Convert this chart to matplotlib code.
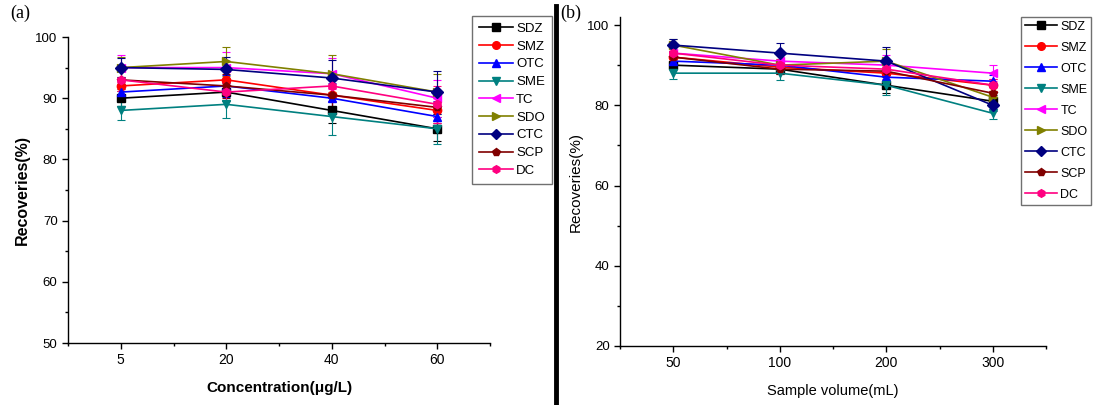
import matplotlib
matplotlib.use("Agg")
import matplotlib.pyplot as plt
from matplotlib.lines import Line2D
import numpy as np

plt.rcParams['font.family'] = ['Liberation Sans', 'DejaVu Sans']

# compounds and styles
names = ["SDZ", "SMZ", "OTC", "SME", "TC", "SDO", "CTC", "SCP", "DC"]
colors = ["#000000", "#ff0000", "#0000ff", "#008080", "#ff00ff",
          "#808000", "#000080", "#800000", "#ff0080"]
markers = ["s", "o", "^", "v", "<", ">", "D", "p", "h"]

# (a) effect of concentration
conc_labels = ["5", "20", "40", "60"]
rec_a = {
    "SDZ": [90, 91, 88, 85],
    "SMZ": [92, 93, 90.5, 88],
    "OTC": [91, 92, 90, 87],
    "SME": [88, 89, 87, 85],
    "TC":  [95, 95, 94, 90],
    "SDO": [95, 96, 94, 91],
    "CTC": [95, 94.7, 93.3, 91],
    "SCP": [93, 92, 90.5, 88.5],
    "DC":  [93, 91, 92, 89],
}
err_a = {
    "SDZ": [1.2, 1.5, 2.0, 2.0],
    "SMZ": [1.5, 2.0, 2.5, 2.5],
    "OTC": [1.3, 1.8, 2.5, 2.5],
    "SME": [1.5, 2.3, 3.0, 2.5],
    "TC":  [2.0, 2.5, 2.5, 3.0],
    "SDO": [1.8, 2.3, 3.0, 3.0],
    "CTC": [1.5, 2.0, 3.0, 3.5],
    "SCP": [1.5, 2.0, 2.5, 2.5],
    "DC":  [1.8, 2.0, 2.5, 3.0],
}

# (b) effect of sample volume
vol_labels = ["50", "100", "200", "300"]
rec_b = {
    "SDZ": [90, 89, 85, 81],
    "SMZ": [92, 89.5, 88, 85],
    "OTC": [91, 90, 87, 86],
    "SME": [88, 88, 85, 78],
    "TC":  [93, 91, 90, 88],
    "SDO": [95, 90, 91, 82],
    "CTC": [95, 93, 91, 80],
    "SCP": [92, 89, 88.5, 83],
    "DC":  [93, 90, 89, 85],
}
err_b = {
    "SDZ": [1.0, 1.2, 2.0, 1.5],
    "SMZ": [1.2, 1.2, 2.0, 1.5],
    "OTC": [1.0, 1.2, 2.0, 1.5],
    "SME": [1.5, 1.6, 2.5, 1.5],
    "TC":  [1.5, 1.5, 2.5, 2.0],
    "SDO": [1.5, 1.5, 3.0, 1.5],
    "CTC": [1.5, 2.4, 3.5, 1.5],
    "SCP": [1.2, 1.2, 2.5, 1.5],
    "DC":  [1.5, 1.5, 2.5, 1.5],
}

W, H = 1094, 405
fig = plt.figure(figsize=(W / 100, H / 100), dpi=100)


def style_axes(ax, labels):
    x = np.arange(1, len(labels) + 1)
    ax.set_xticks(x)
    ax.set_xticklabels(labels)
    ax.set_xticks(np.arange(0.5, len(labels) + 1, 1.0), minor=True)
    ax.set_xlim(0.5, len(labels) + 0.5)
    ax.spines['top'].set_visible(False)
    ax.spines['right'].set_visible(False)
    for s in ('left', 'bottom'):
        ax.spines[s].set_linewidth(1.0)
    ax.tick_params(which='major', direction='out', length=4, width=1)
    ax.tick_params(axis='x', which='major', labelsize=10)
    ax.tick_params(axis='y', which='major', labelsize=9.5)
    ax.tick_params(which='minor', direction='out', length=2.5, width=1)
    return x


def draw(ax, rec, err, x, lw=1.2):
    for n, c, m in zip(names, colors, markers):
        ax.errorbar(x, rec[n], yerr=err[n], color=c, marker=m, markersize=6,
                    linewidth=lw, elinewidth=0.8, capsize=3, capthick=0.8,
                    label=n)


def add_legend(ax, x0, y0, spacing, fs, bpad):
    handles = [Line2D([], [], color=c, marker=m, markersize=5.5, linewidth=1.2)
               for c, m in zip(colors, markers)]
    leg = ax.legend(handles, names, loc='upper left',
                    bbox_to_anchor=(x0 / W, 1 - y0 / H),
                    bbox_transform=fig.transFigure, borderaxespad=0,
                    fancybox=False, framealpha=1, edgecolor='#707070',
                    fontsize=fs, handlelength=2.6, handletextpad=0.25,
                    labelspacing=spacing, borderpad=bpad)
    leg.get_frame().set_linewidth(1.0)


# panel (a)
ax1 = fig.add_axes([68 / W, 1 - 343 / H, 422 / W, 306 / H])
xa = style_axes(ax1, conc_labels)
draw(ax1, rec_a, err_a, xa)
ax1.set_ylim(50, 100)
ax1.set_yticks(np.arange(50, 101, 10))
ax1.set_yticks(np.arange(55, 100, 10), minor=True)
ax1.set_ylabel("Recoveries(%)", fontsize=11.5, fontweight='bold', labelpad=4)
ax1.set_xlabel("Concentration(\u03bcg/L)", fontsize=11, fontweight='bold', labelpad=10)
add_legend(ax1, 472, 16, 0.42, 9.5, 0.5)

# panel (b)
ax2 = fig.add_axes([620 / W, 1 - 346 / H, 426 / W, 329 / H])
xb = style_axes(ax2, vol_labels)
draw(ax2, rec_b, err_b, xb)
ax2.set_ylim(20, 102)
ax2.set_yticks(np.arange(20, 101, 20))
ax2.set_yticks(np.arange(30, 100, 20), minor=True)
ax2.set_ylabel("Recoveries(%)", fontsize=11, labelpad=3)
ax2.set_xlabel("Sample volume(mL)", fontsize=10.5, labelpad=10)
add_legend(ax2, 1021, 17, 0.72, 9, 0.3)

# panel letters and divider
fig.text(10 / W, 1 - 18 / H, "(a)", family=['Liberation Serif'], fontsize=13)
fig.text(560 / W, 1 - 18 / H, "(b)", family=['Liberation Serif'], fontsize=13)
fig.add_artist(Line2D([556 / W, 556 / W], [0, 1 - 6 / H], color='black',
                      linewidth=3.5, transform=fig.transFigure))

fig.savefig("out.png", dpi=100)
